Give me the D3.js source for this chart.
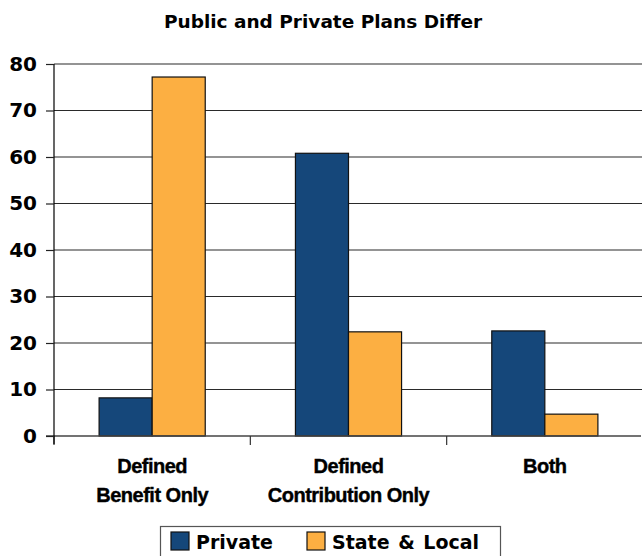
<!DOCTYPE html>
<html>
<head>
<meta charset="utf-8">
<script src="https://cdn.jsdelivr.net/npm/d3@7"></script>
<style>
  body { margin: 0; background: #fff; }
  svg { display: block; }
</style>
</head>
<body>
<div id="chart"></div>
<script>
const categories = [["Defined", "Benefit Only"], ["Defined", "Contribution Only"], ["Both"]];
const seriesNames = ["Private", "State & Local"];
const privateValues = [8.2, 60.8, 22.6];
const stateLocalValues = [77.2, 22.4, 4.7];
const yTicks = [0, 10, 20, 30, 40, 50, 60, 70, 80];
const colors = ["#15477a", "#fcaf42"];

const width = 642, height = 556;
const plotLeft = 54, plotRight = 643, plotTop = 64, plotBottom = 436;

const svg = d3.select("#chart").append("svg")
    .attr("width", width)
    .attr("height", height);

svg.append("text")
    .attr("x", 323)
    .attr("y", 28)
    .attr("text-anchor", "middle")
    .style("font-family", "DejaVu Sans, sans-serif")
    .style("font-weight", "bold")
    .style("font-size", "18.5px")
    .text("Public and Private Plans Differ");

const catKeys = categories.map(c => c.join(" "));
const x = d3.scaleBand().domain(catKeys).range([plotLeft, plotRight]);
const xs = d3.scaleBand().domain(seriesNames).range([0, x.bandwidth()]).paddingOuter(0.85);
const y = d3.scaleLinear().domain([0, 80]).range([plotBottom, plotTop]);

// gridlines
svg.append("g")
    .selectAll("line")
    .data(yTicks.filter(d => d > 0))
    .enter()
    .append("line")
    .attr("x1", plotLeft)
    .attr("x2", 642)
    .attr("y1", d => y(d))
    .attr("y2", d => y(d))
    .attr("stroke", "#2a2a2a")
    .attr("stroke-width", 1.2);

// bars
const data = catKeys.map((k, i) => ({ key: k, values: [privateValues[i], stateLocalValues[i]] }));
const groups = svg.append("g")
    .selectAll("g")
    .data(data)
    .enter()
    .append("g")
    .attr("transform", d => `translate(${x(d.key)},0)`);

groups.selectAll("rect")
    .data(d => d.values.map((v, i) => ({ name: seriesNames[i], value: v, i: i })))
    .enter()
    .append("rect")
    .attr("x", d => xs(d.name))
    .attr("width", xs.bandwidth())
    .attr("y", d => y(d.value))
    .attr("height", d => y(0) - y(d.value))
    .attr("fill", d => colors[d.i])
    .attr("stroke", "#111")
    .attr("stroke-width", 1.2);

// x axis line + ticks
svg.append("line")
    .attr("x1", plotLeft - 8).attr("x2", 641)
    .attr("y1", plotBottom).attr("y2", plotBottom)
    .attr("stroke", "#444").attr("stroke-width", 1.5);

svg.append("g")
    .selectAll("line")
    .data(catKeys)
    .enter()
    .append("line")
    .attr("x1", d => x(d)).attr("x2", d => x(d))
    .attr("y1", plotBottom).attr("y2", plotBottom + 9)
    .attr("stroke", "#333").attr("stroke-width", 1.2);

// y axis
const yAxis = svg.append("g")
    .attr("transform", `translate(${plotLeft},0)`)
    .call(d3.axisLeft(y).tickValues(yTicks).tickSize(8).tickPadding(9));
yAxis.select(".domain").attr("stroke", "#000").attr("stroke-width", 1.2)
    .attr("d", `M0,${plotTop}V${plotBottom + 8}`);
yAxis.selectAll(".tick line").attr("stroke", "#222").attr("stroke-width", 1.2);
yAxis.selectAll(".tick text")
    .style("font-family", "DejaVu Sans, sans-serif")
    .style("font-weight", "bold")
    .style("font-size", "20px")
    .attr("fill", "#000");

// category labels
const labels = svg.append("g")
    .selectAll("text")
    .data(categories)
    .enter()
    .append("text")
    .attr("x", (d, i) => x(catKeys[i]) + x.bandwidth() / 2)
    .attr("y", 473)
    .attr("text-anchor", "middle")
    .attr("stroke", "#000")
    .attr("stroke-width", 0.4)
    .style("font-family", "Liberation Sans, Arial, sans-serif")
    .style("font-weight", "bold")
    .style("font-size", "20px")
    .style("letter-spacing", "-0.5px");
labels.selectAll("tspan")
    .data(d => d)
    .enter()
    .append("tspan")
    .attr("x", function () { return d3.select(this.parentNode).attr("x"); })
    .attr("dy", (d, i) => i === 0 ? 0 : 29)
    .text(d => d);

// legend
const legend = svg.append("g");
legend.append("rect")
    .attr("x", 160.5).attr("y", 526.5)
    .attr("width", 340).attr("height", 50)
    .attr("fill", "#fff")
    .attr("stroke", "#555").attr("stroke-width", 1.2);

const legendX = [171, 307];
const items = legend.selectAll("g")
    .data(seriesNames)
    .enter()
    .append("g")
    .attr("transform", (d, i) => `translate(${legendX[i]},532)`);
items.append("rect")
    .attr("width", 18).attr("height", 18)
    .attr("fill", (d, i) => colors[i])
    .attr("stroke", "#111").attr("stroke-width", 1.2);
items.append("text")
    .attr("x", 25)
    .attr("y", 17)
    .style("font-family", "DejaVu Sans, sans-serif")
    .style("font-weight", "bold")
    .style("font-size", "19px")
    .style("word-spacing", "2px")
    .text(d => d);
</script>
</body>
</html>
